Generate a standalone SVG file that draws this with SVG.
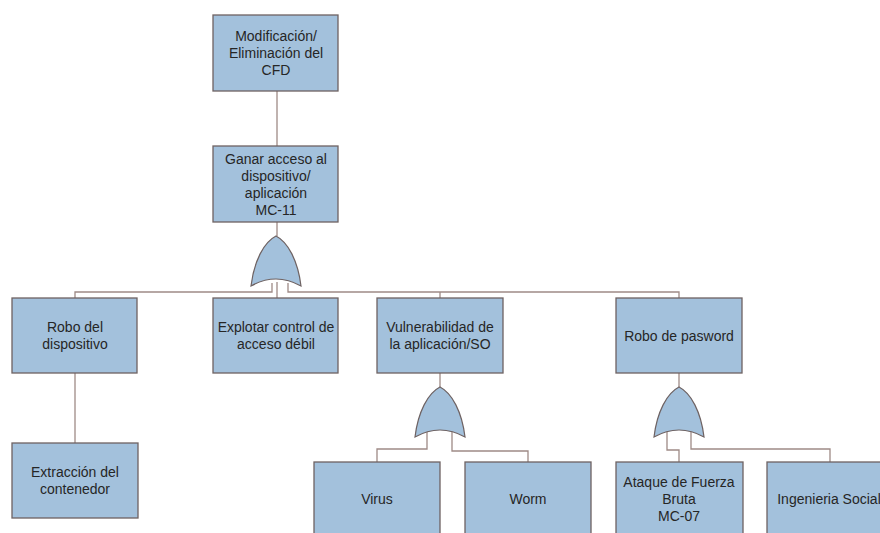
<svg xmlns="http://www.w3.org/2000/svg" width="880" height="533" viewBox="0 0 880 533">
  <style>
    .box { fill: #a3c1dc; stroke: #6e6262; stroke-width: 1.3; }
    .gate { fill: #a3c1dc; stroke: #6e6262; stroke-width: 1.2; }
    .wire { fill: none; stroke: #9e8a86; stroke-width: 1.3; }
    .lbl { font-family: "Liberation Sans", Arial, sans-serif; font-size: 14px; fill: #262626; text-anchor: middle; dominant-baseline: central; }
  </style>
  <defs>
    <!-- OR gate, centred on x=0, top at y=0, base at y=50 -->
    <path id="orGate" d="M -25 50 C -22 25 -12 6 0 0 C 12 6 22 25 25 50 Q 0 36 -25 50 Z"/>
  </defs>
  <rect width="880" height="533" fill="#ffffff"/>

  <g id="connectors">
    <path class="wire" d="M 277 91 V 146"/>
    <path class="wire" d="M 277 222 V 236"/>
    <path class="wire" d="M 277 282 V 298"/>
    <path class="wire" d="M 272 283 V 292 H 75 V 298"/>
    <path class="wire" d="M 288 283 V 292 H 679 V 298"/>
    <path class="wire" d="M 440 292 V 298"/>
    <path class="wire" d="M 75 373 V 443"/>
    <path class="wire" d="M 440 373 V 387"/>
    <path class="wire" d="M 427 431 V 449 H 377 V 462"/>
    <path class="wire" d="M 452 431 V 451 H 528 V 462"/>
    <path class="wire" d="M 679 373 V 387"/>
    <path class="wire" d="M 667 431 V 450 H 679 V 462"/>
    <path class="wire" d="M 691 431 V 449 H 830 V 462"/>
  </g>

  <g id="gate-mc11"><use href="#orGate" class="gate" x="276" y="236"/></g>
  <g id="gate-vuln"><use href="#orGate" class="gate" x="440" y="387"/></g>
  <g id="gate-pass"><use href="#orGate" class="gate" x="679" y="387"/></g>

  <g id="n-cfd">
    <rect class="box" x="213" y="15" width="125" height="76"/>
    <text class="lbl" x="276" y="36">Modificación/</text>
    <text class="lbl" x="276" y="53">Eliminación del</text>
    <text class="lbl" x="276" y="70">CFD</text>
  </g>

  <g id="n-acceso">
    <rect class="box" x="213" y="146" width="125" height="76"/>
    <text class="lbl" x="276" y="158.5">Ganar acceso al</text>
    <text class="lbl" x="276" y="175.5">dispositivo/</text>
    <text class="lbl" x="276" y="192.5">aplicación</text>
    <text class="lbl" x="276" y="209.5">MC-11</text>
  </g>

  <g id="n-robo-disp">
    <rect class="box" x="12" y="298" width="125" height="75"/>
    <text class="lbl" x="75" y="327">Robo del</text>
    <text class="lbl" x="75" y="344">dispositivo</text>
  </g>

  <g id="n-explotar">
    <rect class="box" x="213" y="298" width="125" height="75"/>
    <text class="lbl" x="276" y="327">Explotar control de</text>
    <text class="lbl" x="276" y="344">acceso débil</text>
  </g>

  <g id="n-vuln">
    <rect class="box" x="377" y="298" width="126" height="75"/>
    <text class="lbl" x="440" y="327">Vulnerabilidad de</text>
    <text class="lbl" x="440" y="344">la aplicación/SO</text>
  </g>

  <g id="n-robo-pass">
    <rect class="box" x="616" y="298" width="126" height="75"/>
    <text class="lbl" x="679" y="335.5">Robo de pasword</text>
  </g>

  <g id="n-extraccion">
    <rect class="box" x="12" y="443" width="126" height="75"/>
    <text class="lbl" x="75" y="472">Extracción del</text>
    <text class="lbl" x="75" y="489">contenedor</text>
  </g>

  <g id="n-virus">
    <rect class="box" x="314" y="462" width="126" height="75"/>
    <text class="lbl" x="377" y="499">Virus</text>
  </g>

  <g id="n-worm">
    <rect class="box" x="465" y="462" width="126" height="75"/>
    <text class="lbl" x="528" y="499">Worm</text>
  </g>

  <g id="n-fuerza-bruta">
    <rect class="box" x="616" y="462" width="127" height="75"/>
    <text class="lbl" x="679" y="482">Ataque de Fuerza</text>
    <text class="lbl" x="679" y="499">Bruta</text>
    <text class="lbl" x="679" y="516">MC-07</text>
  </g>

  <g id="n-ingenieria">
    <rect class="box" x="767" y="462" width="126" height="75"/>
    <text class="lbl" x="829" y="499">Ingenieria Social</text>
  </g>
</svg>
